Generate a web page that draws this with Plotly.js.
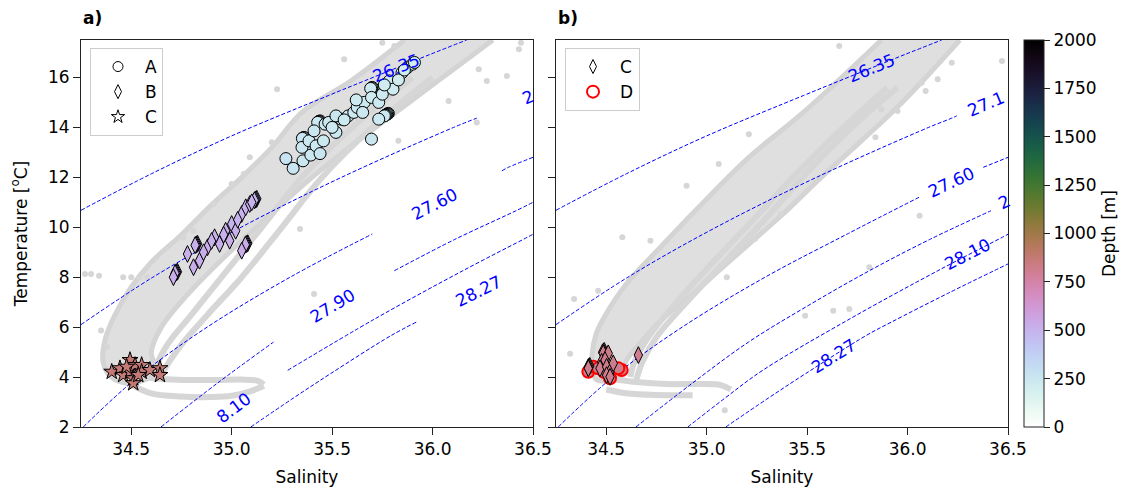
<!DOCTYPE html>
<html><head><meta charset="utf-8">
<script src="https://cdn.plot.ly/plotly-3.0.1.min.js"></script>
<style>html,body{margin:0;padding:0;background:#fff}#chart{width:1134px;height:487px}</style>
</head><body><div id="chart"></div>
<script>
// ---------------- isopycnal curves (sigma0) ----------------
const isoLevels = ["26.35","27.10","27.60","27.90","28.10","28.27"];
const iso_26_35_S = [34.25, 34.6, 35.0, 35.483, 35.66, 35.99, 36.17];
const iso_26_35_T = [10.68, 12.14, 13.66, 15.28, 15.86, 16.93, 17.5];
const iso_27_10_S = [34.25, 34.608, 35.047, 35.547, 36.105, 36.22, 36.245, 36.5];
const iso_27_10_T = [6.1, 8.0, 10.0, 12.0, 14.0, 14.37, 14.46, 15.35];
const iso_27_60_S = [34.261, 34.533, 34.878, 35.291, 35.70, 36.057, 36.345, 36.377, 36.5];
const iso_27_60_T = [2.0, 4.0, 6.0, 8.0, 9.73, 11.2, 12.26, 12.4, 12.8];
const iso_27_90_S = [34.648, 34.928, 35.208, 35.509, 35.81, 36.11, 36.415, 36.5];
const iso_27_90_T = [2.0, 3.75, 5.4, 6.88, 8.26, 9.51, 10.66, 11.0];
const iso_28_10_S = [34.906, 35.09, 35.279, 35.715, 36.151, 36.472, 36.5];
const iso_28_10_T = [2.0, 3.15, 4.27, 6.34, 8.26, 9.60, 9.72];
const iso_28_27_S = [35.095, 35.3, 35.491, 35.793, 35.919, 36.2, 36.5];
const iso_28_27_T = [2.0, 3.12, 4.13, 5.66, 6.20, 7.35, 8.53];

// label gaps (salinity range left blank for inline labels), per panel
const gapA = {"26.35":[35.66,35.99],"27.10":[36.22,37],"27.60":[35.70,36.345],"27.90":[35.208,35.81],"28.10":[34.0,35.279],"28.27":[35.919,37]};
const gapB = {"26.35":[35.66,35.99],"27.10":[36.245,37],"27.60":[36.057,36.377],"27.90":[36.415,37],"28.10":[36.151,36.472],"28.27":[35.491,35.793]};

// inline contour labels (visible text, salinity, temperature)
const labA_text = ["26.35","2","27.60","27.90","8.10","28.27"];
const labA_S = [35.82, 36.478, 36.01, 35.50, 35.01, 36.23];
const labA_T = [16.36, 15.2, 10.95, 6.86, 2.75, 7.46];
const labB_text = ["26.35","27.1","27.60","2","28.10","28.27"];
const labB_S = [35.82, 36.39, 36.22, 36.481, 36.30, 35.632];
const labB_T = [16.39, 14.93, 11.8, 11.0, 8.93, 4.86];

// ---------------- grey background profiles ----------------
const bgA_bandS = [35.86,35.6,35.35,35.2,35.05,34.9,34.75,34.6,34.5,34.42,34.37,34.36,34.4,34.5, 34.62,34.6,34.65,34.78,34.95,35.15,35.4,35.65,35.9,36.1,36.3];
const bgA_bandT = [17.5,15.9,14.6,13.2,12.0,10.9,9.7,8.6,7.6,6.5,5.5,4.6,4.0,3.75, 4.2,5.0,6.0,7.3,8.7,10.2,12.0,13.6,15.1,16.3,17.5];
const bgA_line1S = [36.0,35.7,35.45,35.25,35.05,34.88,34.75,34.68,34.65];
const bgA_line1T = [16.0,14.0,12.0,10.0,8.0,6.5,5.3,4.5,4.1];
const bgA_line2S = [35.9,35.6,35.35,35.15,34.95,34.8,34.68,34.62];
const bgA_line2T = [16.0,14.0,12.0,10.0,8.0,6.5,5.3,4.4];
const bgA_hookUS = [34.55,34.7,34.9,35.05,35.13,35.16];
const bgA_hookUT = [4.0,3.9,3.88,3.9,3.85,3.7];
const bgA_hookLS = [34.5,34.6,34.75,34.9,35.0,35.1,35.16];
const bgA_hookLT = [3.7,3.35,3.22,3.2,3.25,3.45,3.65];
const bgA_dotS = [35.75,35.81,35.56,36.27,36.23,36.37,36.43,36.44,36.08,36.22,35.83,35.34,35.41,35.226,35.2,35.09,35.06,35.0,34.91,34.81,34.76,34.27,34.3,34.34,34.35,34.38,34.46,34.5,34.54,34.58];
const bgA_dotT = [17.39,17.26,16.73,15.86,16.33,16.06,17.13,17.39,15.06,14.2,13.46,9.93,7.33,15.53,13.4,12.8,12.13,11.73,10.93,9.86,9.6,8.13,8.13,8.06,5.86,5.2,8.0,8.0,8.0,8.0];

const bgB_bandS = [35.87,35.49,35.21,34.96,34.77,34.6,34.49,34.45,34.43,34.43,34.45, 34.57,34.6,34.68,34.79,34.93,35.08,35.23,35.38,35.57,35.77,35.98,36.26];
const bgB_bandT = [17.5,14.66,12.8,10.8,9.2,7.73,6.4,5.73,4.93,4.4,3.9, 4.0,4.66,5.46,6.4,7.33,8.4,9.46,10.53,12.0,13.46,15.06,17.5];
const bgB_line1S = [35.95,35.75,35.5,35.3,35.1,34.9,34.75,34.68,34.65];
const bgB_line1T = [15.6,14.2,12.2,10.4,8.7,7.0,5.6,4.6,3.9];
const bgB_line2S = [35.9,35.68,35.43,35.22,35.02,34.84,34.71,34.64,34.62];
const bgB_line2T = [15.6,14.0,12.0,10.2,8.5,6.9,5.6,4.6,4.0];
const bgB_hookUS = [34.5,34.65,34.8,34.95,35.07,35.12];
const bgB_hookUT = [3.95,3.8,3.72,3.72,3.68,3.5];
const bgB_hookLS = [34.5,34.6,34.75,34.93];
const bgB_hookLT = [3.5,3.35,3.28,3.27];
const bgB_dotS = [35.66,35.21,35.06,34.9,34.58,34.72,34.46,34.34,34.32,35.09,35.1,35.49,35.63,35.71,35.81,36.06,36.47,36.22,36.07,36.15,36.09,35.95,35.84,35.87,35.37,35.24];
const bgB_dotT = [17.26,13.73,12.53,11.66,9.6,9.46,7.46,7.13,4.93,2.67,8.0,6.46,6.66,6.73,8.4,10.46,16.66,16.59,15.79,15.93,15.46,14.66,13.6,14.73,10.53,9.53];

// ---------------- sample markers (salinity, temperature, depth m) ----------------
const aA_S = [35.78,35.776,35.772,35.768,35.764,35.76, 35.44,35.436,35.432,35.428, 35.36,35.356,35.352, 35.70,35.696,35.692,
  35.270,35.306,35.355,35.35,35.394,35.385,35.42,35.457,35.41,35.465,35.519,35.483,35.545,35.58,35.519,35.608,35.625,35.66,35.652,35.696,35.732,35.75,35.785,35.803,35.848,35.874,35.9,35.696,35.732,35.44,35.5,35.56,35.62,35.76,35.83,35.86,35.91];
const aA_T = [14.56,14.54,14.52,14.5,14.48,14.46, 14.26,14.24,14.22,14.2, 13.6,13.58,13.56, 15.6,15.58,15.56,
  12.75,12.36,12.66,13.2,12.89,13.46,13.26,13.46,13.86,14.13,13.8,14.2,14.33,14.46,14.46,14.6,14.8,15.0,14.6,15.2,15.0,15.33,15.86,15.53,16.19,16.39,16.53,13.53,14.33,12.95,14.0,14.3,15.1,15.7,15.9,16.3,16.6];
const aA_D = [250,250,250,250,250,250, 240,240,240,240, 260,260,260, 230,230,230,
  270,260,250,255,245,250,240,235,250,245,240,250,245,230,250,240,235,230,245,225,240,230,220,225,215,210,205,250,240,260,240,235,230,220,215,210,205];

const aB_S = [34.73,34.726,34.722,34.718, 34.83,34.826,34.822,34.818, 35.08,35.076,35.072,35.068, 35.125,35.121,35.117,35.113,
  34.71,34.78,34.81,34.84,34.88,34.915,34.94,34.97,34.99,35.0,35.02,35.05,35.07,35.09,35.05,34.86,34.9,34.96,35.03,35.1];
const aB_T = [8.22,8.2,8.18,8.16, 9.34,9.32,9.3,9.28, 9.36,9.34,9.32,9.3, 11.14,11.12,11.1,11.08,
  8.0,8.93,8.4,8.66,9.2,9.6,9.33,9.86,9.46,10.13,9.86,10.53,10.8,10.93,9.06,9.0,9.45,9.7,10.3,11.0];
const aB_D = [520,520,520,520, 510,510,510,510, 530,530,530,530, 500,500,500,500,
  520,515,525,510,520,505,515,510,520,500,510,505,500,495,530,515,510,505,500,495];

const aC_S = [34.403,34.444,34.494,34.46,34.494,34.519,34.51,34.51,34.552,34.552,34.593,34.643,34.643,34.535,34.477];
const aC_T = [4.21,4.35,4.68,4.08,4.21,4.48,3.95,3.75,4.48,4.21,4.28,4.35,4.08,4.08,4.41];
const aC_D = [870,860,880,870,865,875,870,880,860,870,865,875,870,865,870];

const bD_S = [34.411,34.436,34.46,34.535,34.577,34.519,34.56,34.49];
const bD_T = [4.21,4.41,4.35,4.35,4.28,3.95,4.35,4.2];
const bD_D = [820,820,820,820,820,820,820,820];

const bC_S = [34.49,34.486,34.482, 34.418,34.414,34.41,
  34.411,34.485,34.51,34.477,34.469,34.494,34.502,34.519,34.535,34.502,34.519,34.66];
const bC_T = [5.05,5.02,4.99, 4.45,4.42,4.39,
  4.35,4.95,4.95,4.61,4.35,4.68,4.41,4.21,4.55,4.08,4.01,4.88];
const bC_D = [820,820,820, 820,820,820, 820,815,825,820,810,820,825,815,820,820,815,810];

// ---------------- axis ticks ----------------
const xTicks = [34.5, 35.0, 35.5, 36.0, 36.5];
const xTickText = ["34.5","35.0","35.5","36.0","36.5"];
const yTicks = [2,4,6,8,10,12,14,16];
const cbTicks = [0,250,500,750,1000,1250,1500,1750,2000];

// ---------------- colour map: matplotlib cubehelix_r ----------------
function cubehelix(x){
  const a = x*(1-x)/2, phi = 2*Math.PI*(0.5/3 - 1.5*x);
  const c = Math.cos(phi), s = Math.sin(phi);
  const cl = v => Math.round(255*Math.min(1,Math.max(0,v)));
  return 'rgb('+cl(x+a*(-0.14861*c+1.78277*s))+','+cl(x+a*(-0.29227*c-0.90649*s))+','+cl(x+a*(1.97294*c))+')';
}
const cscale = [];
for(let i=0;i<=40;i++){ const t=i/40; cscale.push([t, cubehelix(1-t)]); }

// ---------------- build ----------------
const isoS = {"26.35":iso_26_35_S,"27.10":iso_27_10_S,"27.60":iso_27_60_S,"27.90":iso_27_90_S,"28.10":iso_28_10_S,"28.27":iso_28_27_S};
const isoT = {"26.35":iso_26_35_T,"27.10":iso_27_10_T,"27.60":iso_27_60_T,"27.90":iso_27_90_T,"28.10":iso_28_10_T,"28.27":iso_28_27_T};
function gapped(S,T,g){
  const x=[],y=[]; let inserted=false;
  for(let i=0;i<S.length;i++){
    if(S[i]>g[0] && S[i]<g[1]){ if(!inserted){x.push(null);y.push(null);inserted=true;} continue; }
    x.push(S[i]); y.push(T[i]);
  }
  return {x,y};
}
function bgTraces(xa,ya,bandS,bandT,lines,dotS,dotT){
  const tr=[];
  tr.push({x:bandS,y:bandT,xaxis:xa,yaxis:ya,mode:'lines',fill:'toself',fillcolor:'#dfdfdf',line:{color:'#d4d4d4',width:5,shape:'spline'},showlegend:false,hoverinfo:'skip'});
  lines.forEach(l=>tr.push({x:l[0],y:l[1],xaxis:xa,yaxis:ya,mode:'lines',line:{color:'#d6d6d6',width:6,shape:'spline'},showlegend:false,hoverinfo:'skip'}));
  tr.push({x:dotS,y:dotT,xaxis:xa,yaxis:ya,mode:'markers',marker:{color:'#d6d6d6',size:6},showlegend:false,hoverinfo:'skip'});
  return tr;
}
function isoTraces(xa,ya,gaps){
  return isoLevels.map(l=>{ const g=gapped(isoS[l],isoT[l],gaps[l]);
    return {x:g.x,y:g.y,xaxis:xa,yaxis:ya,mode:'lines',line:{color:'#0000ff',width:1,dash:'4px,2px',shape:'spline'},connectgaps:false,showlegend:false,hoverinfo:'skip'};});
}
function markTrace(xa,ya,S,T,D,sym,size,lineColor,lineW,showscale){
  const m={color:D,colorscale:cscale,cmin:0,cmax:2000,symbol:sym,size:size,line:{color:lineColor,width:lineW}};
  if(showscale){ m.showscale=true; m.colorbar={x:1024/1134,xanchor:'left',xpad:0,y:1-427/487,yanchor:'bottom',ypad:0,len:387/487,lenmode:'fraction',thickness:20,
     outlinecolor:'#222',outlinewidth:1,ticks:'outside',ticklen:6,tickcolor:'#222',tickvals:cbTicks,ticktext:cbTicks.map(String),
     tickfont:{family:'DejaVu Sans',size:17,color:'#000'},title:{text:'Depth [m]',side:'right',font:{family:'DejaVu Sans',size:17,color:'#000'}}}; }
  return {x:S,y:T,xaxis:xa,yaxis:ya,mode:'markers',marker:m,showlegend:false,hoverinfo:'skip'};
}
function legTrace(name,sym,size,fill,lc,lw,legend,xa,ya){
  return {x:[null],y:[null],xaxis:xa,yaxis:ya,mode:'markers',name:name,legend:legend,marker:{symbol:sym,size:size,color:fill,line:{color:lc,width:lw}}};
}

let data=[];
data = data.concat(bgTraces('x','y',bgA_bandS,bgA_bandT,[[bgA_line1S,bgA_line1T],[bgA_line2S,bgA_line2T],[bgA_hookUS,bgA_hookUT],[bgA_hookLS,bgA_hookLT]],bgA_dotS,bgA_dotT));
data = data.concat(bgTraces('x2','y2',bgB_bandS,bgB_bandT,[[bgB_line1S,bgB_line1T],[bgB_line2S,bgB_line2T],[bgB_hookUS,bgB_hookUT],[bgB_hookLS,bgB_hookLT]],bgB_dotS,bgB_dotT));
data = data.concat(isoTraces('x','y',gapA));
data = data.concat(isoTraces('x2','y2',gapB));
data.push(markTrace('x','y',aC_S,aC_T,aC_D,'star',12,'#000',1,false));
data.push(markTrace('x','y',aB_S,aB_T,aB_D,'diamond-tall',12,'#000',1,false));
data.push(markTrace('x','y',aA_S,aA_T,aA_D,'circle',12,'#000',1,false));
data.push(markTrace('x2','y2',bD_S,bD_T,bD_D,'circle',12,'#ff0000',2,false));
data.push(markTrace('x2','y2',bC_S,bC_T,bC_D,'diamond-tall',12,'#000',1,true));
data.push(legTrace('A','circle',10,'#fff','#000',1,'legend','x','y'));
data.push(legTrace('B','diamond-tall',10,'#fff','#000',1,'legend','x','y'));
data.push(legTrace('C','star',10,'#fff','#000',1,'legend','x','y'));
data.push(legTrace('C','diamond-tall',10,'#fff','#000',1,'legend2','x2','y2'));
data.push(legTrace('D','circle',12,'#fff','#ff0000',2,'legend2','x2','y2'));

const font = {family:'DejaVu Sans',size:17,color:'#000'};
function ann(xr,yr,T,S,Tt,ang){ return T.map((t,i)=>({xref:xr,yref:yr,x:S[i],y:Tt[i],text:t,showarrow:false,textangle:ang[i],font:{family:'DejaVu Sans',size:17,color:'#0000ff'}})); }
const angA=[-22,-23,-27,-31,-37,-26], angB=[-22,-23,-25,-26,-27,-32];
const annotations = [].concat(ann('x','y',labA_text,labA_S,labA_T,angA), ann('x2','y2',labB_text,labB_S,labB_T,angB));
annotations.push({xref:'paper',yref:'paper',x:81/1134,y:1-18/487,xanchor:'left',yanchor:'middle',text:'<b>a)</b>',showarrow:false,font:font});
annotations.push({xref:'paper',yref:'paper',x:556/1134,y:1-18/487,xanchor:'left',yanchor:'middle',text:'<b>b)</b>',showarrow:false,font:font});

const axBase = {range:[34.25,36.5],showline:true,mirror:true,linecolor:'#222',linewidth:1,ticks:'outside',ticklen:7,tickcolor:'#222',
  tickvals:xTicks,ticktext:xTickText,tickfont:font,showgrid:false,zeroline:false,automargin:false,
  title:{text:'Salinity',font:font,standoff:14}};
const ayBase = {range:[2,17.5],showline:true,mirror:true,linecolor:'#222',linewidth:1,ticks:'outside',ticklen:7,tickcolor:'#222',
  tickvals:yTicks,ticktext:yTicks.map(String),tickfont:font,showgrid:false,zeroline:false,automargin:false};
const legBase = {bgcolor:'rgba(255,255,255,0.85)',bordercolor:'#cccccc',borderwidth:1,font:font,itemwidth:44,xanchor:'left',yanchor:'top',tracegroupgap:0};

const layout = {
  width:1134,height:487,margin:{l:0,r:0,t:0,b:0},paper_bgcolor:'#fff',plot_bgcolor:'#fff',font:font,
  xaxis:Object.assign({},axBase,{domain:[81/1134,533/1134],anchor:'y'}),
  yaxis:Object.assign({},ayBase,{domain:[1-427/487,1-40/487],anchor:'x',title:{text:'Temperature [<sup>o</sup>C]',font:font,standoff:16}}),
  xaxis2:Object.assign({},axBase,{domain:[556/1134,1008/1134],anchor:'y2'}),
  yaxis2:Object.assign({},ayBase,{domain:[1-427/487,1-40/487],anchor:'x2',showticklabels:false}),
  legend:Object.assign({},legBase,{x:90/1134,y:1-48/487}),
  legend2:Object.assign({},legBase,{x:565/1134,y:1-48/487}),
  annotations:annotations,
  showlegend:true
};
Plotly.newPlot('chart',data,layout,{displayModeBar:false,staticPlot:true});
</script></body></html>
